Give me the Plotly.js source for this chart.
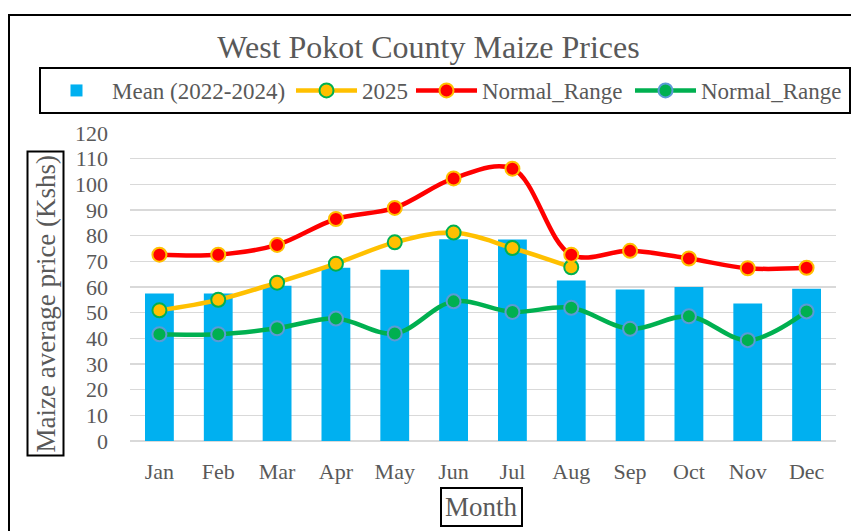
<!DOCTYPE html>
<html>
<head>
<meta charset="utf-8">
<script src="https://cdn.plot.ly/plotly-3.0.1.min.js"></script>
<style>html,body{margin:0;padding:0;background:#fff;}#chart{width:851px;height:531px;}</style>
</head>
<body>
<div id="chart"></div>
<script>
const months = ['Jan','Feb','Mar','Apr','May','Jun','Jul','Aug','Sep','Oct','Nov','Dec'];
const meanValues = [57.5, 57.5, 60.5, 67.5, 66.7, 78.6, 78.5, 62.5, 59.0, 60.0, 53.6, 59.3];
const months2025 = ['Jan','Feb','Mar','Apr','May','Jun','Jul','Aug'];
const values2025 = [50.9, 55.0, 61.7, 69.1, 77.4, 81.2, 75.2, 67.7];
const normalHigh = [72.6, 72.6, 76.4, 86.5, 90.8, 102.3, 106.1, 72.6, 74.1, 71.1, 67.3, 67.5];
const normalLow = [41.6, 41.6, 43.9, 47.7, 41.9, 54.4, 50.3, 51.9, 43.7, 48.6, 39.3, 50.5];
const yTicks = [0,10,20,30,40,50,60,70,80,90,100,110,120];

const serif = '"Liberation Serif", "Times New Roman", serif';
const grey = '#595959';

const traces = [
  {type:'bar', name:'Mean (2022-2024)', x:months, y:meanValues, width:0.49,
   marker:{color:'#00B0F0'}, legendwidth:174},
  {type:'scatter', mode:'lines+markers', name:'2025', x:months2025, y:values2025,
   line:{color:'#FFC000', width:4.5, shape:'spline', smoothing:1},
   marker:{size:14, color:'#FFC000', line:{color:'#00B050', width:2}}, legendwidth:44},
  {type:'scatter', mode:'lines+markers', name:'Normal_Range', x:months, y:normalHigh,
   line:{color:'#FF0000', width:4.5, shape:'spline', smoothing:1},
   marker:{size:14, color:'#FF0000', line:{color:'#FFC000', width:2}}, legendwidth:143},
  {type:'scatter', mode:'lines+markers', name:'Normal_Range', x:months, y:normalLow,
   line:{color:'#00B050', width:4.5, shape:'spline', smoothing:1},
   marker:{size:14, color:'#00B050', line:{color:'#5B9BD5', width:2}}, legendwidth:143}
];

const W = 851, H = 531, L = 40, R = 0, T = 133, B = 90;
const pw = W - L - R, ph = H - T - B;
const px = v => (v - L) / pw;
const py = v => (H - B - v) / ph;

const layout = {
  width: W, height: H,
  margin:{l:L, r:R, t:T, b:B, pad:0},
  paper_bgcolor:'#fff', plot_bgcolor:'#fff',
  font:{family:serif, color:grey},
  title:{text:'West Pokot County Maize Prices', font:{family:serif, size:32, color:grey},
         xref:'container', x:428.5/W, xanchor:'center', yref:'container', y:1-47/H, yanchor:'middle'},
  showlegend:true,
  legend:{orientation:'h', x:0, xanchor:'left', y:py(67), yanchor:'top',
          font:{family:serif, size:23, color:grey}, bordercolor:'#000', borderwidth:2,
          bgcolor:'#fff', itemwidth:61, traceorder:'normal'},
  xaxis:{domain:[px(130), px(836)], type:'category', categoryorder:'array', categoryarray:months,
         range:[-0.5, 11.5], showgrid:false, zeroline:false, showline:false, ticks:'',
         tickfont:{family:serif, size:22, color:grey}, ticklabelstandoff:15, fixedrange:true},
  yaxis:{range:[0,120], tickvals:yTicks, ticktext:yTicks.map(String), showgrid:true,
         gridcolor:'#D9D9D9', gridwidth:1.5, zeroline:true, zerolinecolor:'#D9D9D9', zerolinewidth:1.5,
         showline:false, ticks:'', tickfont:{family:serif, size:22, color:grey}, ticklabelstandoff:21,
         fixedrange:true},
  annotations:[
    {text:'Maize average price (Kshs)', xref:'paper', yref:'paper', x:px(45), y:py(303.5),
     xanchor:'center', yanchor:'middle', textangle:-90, showarrow:false,
     font:{family:serif, size:27, color:grey}, bordercolor:'#000', borderwidth:2, borderpad:2},
    {text:'Month', xref:'paper', yref:'paper', x:px(482), y:py(507),
     xanchor:'center', yanchor:'middle', showarrow:false,
     font:{family:serif, size:27, color:grey}, bordercolor:'#000', borderwidth:2, borderpad:3}
  ],
  shapes:[
    {type:'rect', xref:'paper', yref:'paper', x0:px(9), x1:px(900), y0:py(600), y1:py(15),
     line:{color:'#000', width:2}, fillcolor:'rgba(0,0,0,0)', layer:'below'}
  ]
};

Plotly.newPlot('chart', traces, layout, {displayModeBar:false, staticPlot:true});
</script>
</body>
</html>
